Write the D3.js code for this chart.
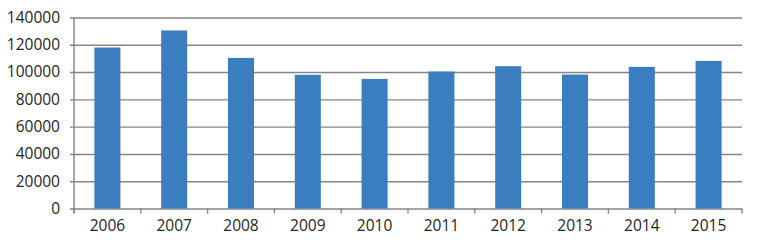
<html>
<head>
<script src="https://cdn.jsdelivr.net/npm/d3@7"></script>
<style>
  body { margin: 0; background: #fff; }
  text { font-family: "Open Sans", sans-serif; fill: #262626; }
</style>
</head>
<body>
<div id="chart"></div>
<script>
var years = ['2006','2007','2008','2009','2010','2011','2012','2013','2014','2015'];
var values = [118000, 130500, 110400, 98000, 95000, 100400, 104300, 98200, 103800, 108200];
var yTicks = [0, 20000, 40000, 60000, 80000, 100000, 120000, 140000];

var width = 757, height = 245;
var plotLeft = 74, plotRight = 742, plotTop = 17.5, plotBottom = 208.5;
var lineColor = '#858585';

var svg = d3.select('#chart').append('svg')
    .attr('width', width)
    .attr('height', height);

var x = d3.scaleBand()
    .domain(years)
    .range([plotLeft, plotRight])
    .paddingInner(0.61)
    .paddingOuter(0.305);

var y = d3.scaleLinear()
    .domain([0, 140000])
    .range([plotBottom, plotTop]);

// gridlines, sticking out a little on the left as ticks
svg.append('g')
    .attr('transform', 'translate(' + plotLeft + ',0)')
    .call(d3.axisLeft(y).tickValues(yTicks).tickSize(-(plotRight - plotLeft)).tickSizeOuter(0).tickFormat(''))
    .call(function(g) {
        g.select('.domain').remove();
        g.selectAll('.tick line').attr('stroke', lineColor).attr('stroke-width', 1.4).attr('x1', -4);
    });

// y labels
svg.append('g')
    .selectAll('text')
    .data(yTicks)
    .enter().append('text')
    .attr('x', 60)
    .attr('y', function(d) { return y(d); })
    .attr('dy', '0.35em')
    .attr('text-anchor', 'end')
    .style('font-size', '15.5px')
    .text(function(d) { return d; });

// bars
svg.append('g')
    .selectAll('rect')
    .data(values)
    .enter().append('rect')
    .attr('x', function(d, i) { return x(years[i]); })
    .attr('y', function(d) { return y(d); })
    .attr('width', x.bandwidth())
    .attr('height', function(d) { return y(0) - y(d); })
    .attr('fill', '#3a7ebf');

// y axis line
svg.append('line')
    .attr('x1', plotLeft).attr('x2', plotLeft)
    .attr('y1', plotTop).attr('y2', plotBottom + 4)
    .attr('stroke', lineColor).attr('stroke-width', 1.4);

// category separator ticks on the x axis
var edges = d3.range(years.length + 1).map(function(i) { return plotLeft + i * (plotRight - plotLeft) / years.length; });
svg.append('g')
    .selectAll('line')
    .data(edges)
    .enter().append('line')
    .attr('x1', function(d) { return d; })
    .attr('x2', function(d) { return d; })
    .attr('y1', plotBottom)
    .attr('y2', plotBottom + 5)
    .attr('stroke', lineColor).attr('stroke-width', 1.4);

svg.append('g')
    .selectAll('text')
    .data(years)
    .enter().append('text')
    .attr('x', function(d) { return x(d) + x.bandwidth() / 2; })
    .attr('y', 231)
    .attr('text-anchor', 'middle')
    .style('font-size', '15.5px')
    .text(function(d) { return d; });
</script>
</body>
</html>
